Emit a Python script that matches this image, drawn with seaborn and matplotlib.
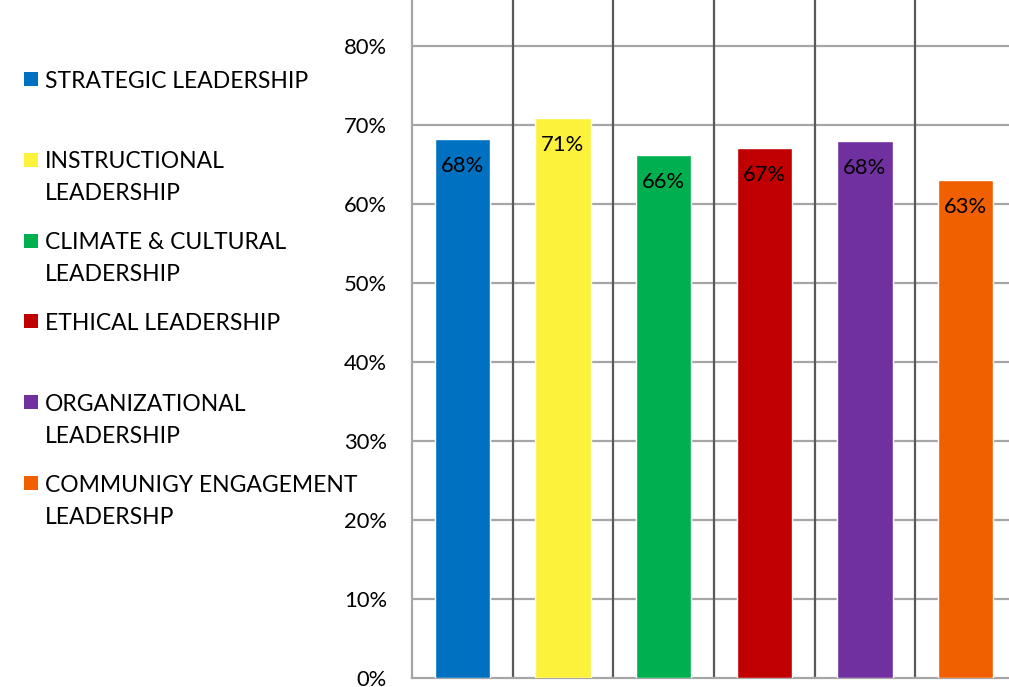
import matplotlib
matplotlib.use("Agg")
import matplotlib.pyplot as plt
import seaborn as sns
import numpy as np
from matplotlib.patches import Rectangle

categories = ["STRATEGIC LEADERSHIP", "INSTRUCTIONAL\nLEADERSHIP", "CLIMATE & CULTURAL\nLEADERSHIP",
              "ETHICAL LEADERSHIP", "ORGANIZATIONAL\nLEADERSHIP", "COMMUNIGY ENGAGEMENT\nLEADERSHP"]
values = [0.682, 0.709, 0.662, 0.671, 0.680, 0.630]
value_labels = ["68%", "71%", "66%", "67%", "68%", "63%"]
colors = ["#0070C0", "#FDF23B", "#00B050", "#C00000", "#7030A0", "#F06000"]
ytick_vals = [0, 0.1, 0.2, 0.3, 0.4, 0.5, 0.6, 0.7, 0.8]
ytick_labels = ["0%", "10%", "20%", "30%", "40%", "50%", "60%", "70%", "80%"]

sns.set_theme(style="white")
plt.rcParams['font.family'] = ['Lato', 'DejaVu Sans']

W, H = 1009, 687
fig = plt.figure(figsize=(W / 100, H / 100), dpi=100)
ax = fig.add_axes([412 / W, (H - 678) / H, (1016 - 412) / W, 711 / H])

sns.barplot(x=list(range(len(values))), y=values, hue=list(range(len(values))),
            palette=colors, legend=False, width=0.55, saturation=1, ax=ax, zorder=3)

ax.set_ylim(0, 0.9)
ax.set_xlim(-0.5, len(values) - 0.5)
ax.set_yticks(ytick_vals)
ax.set_yticklabels(ytick_labels, fontsize=15.8, color="#000000")
ax.tick_params(axis="y", length=0, pad=18)
ax.set_xticks([])
ax.set_xlabel("")
ax.set_ylabel("")

for y in ytick_vals[1:]:
    ax.axhline(y, color="#A6A6A6", lw=1.6, zorder=1)
for i in range(1, len(values) + 1):
    ax.axvline(i - 0.5, color="#595959", lw=1.6, zorder=2)

for s in ["top", "right"]:
    ax.spines[s].set_visible(False)
ax.spines["left"].set_color("#A6A6A6")
ax.spines["left"].set_linewidth(1.6)
ax.spines["bottom"].set_color("#A6A6A6")
ax.spines["bottom"].set_linewidth(1.6)

for i, (v, lab) in enumerate(zip(values, value_labels)):
    ax.annotate(lab, (i, v), xytext=(0, -19.5), textcoords="offset points",
                ha="center", va="center", fontsize=15.8, color="#000000", zorder=4)

# legend
entry_y0 = 81
entry_step = 80.8
line_step = 32
for k, (cat, col) in enumerate(zip(categories, colors)):
    yc = entry_y0 + k * entry_step
    fig.patches.append(Rectangle((24 / W, 1 - (yc + 5) / H), 14 / W, 14 / H,
                                 transform=fig.transFigure, facecolor=col, edgecolor="none"))
    for j, line in enumerate(cat.split("\n")):
        fig.text(45 / W, 1 - (yc + j * line_step) / H, line, ha="left", va="center",
                 fontsize=16.5, color="#000000")

fig.savefig("out.png", dpi=100)
